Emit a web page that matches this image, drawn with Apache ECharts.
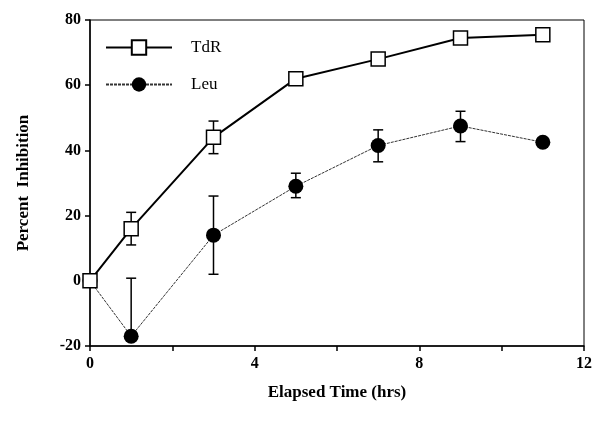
<!DOCTYPE html>
<html>
<head>
<meta charset="utf-8">
<script src="https://cdn.jsdelivr.net/npm/echarts@6/dist/echarts.min.js"></script>
<style>
  html, body { margin: 0; padding: 0; background: #fff; }
  #chart { width: 596px; height: 423px; }
</style>
</head>
<body>
<div id="chart"></div>
<script>
// elapsed time (hrs)
var hours = [0, 1, 3, 5, 7, 9, 11];
// percent inhibition
var tdr = [0, 16, 44, 62, 68, 74.5, 75.5];
var leu = [0, -17, 14, 29, 41.5, 47.5, 42.5];
// error bars [x, low, high]
var tdrErr = [[1, 11, 21], [3, 39, 49]];
var leuErr = [[1, -17, 0.8], [3, 2, 26], [5, 25.5, 33], [7, 36.5, 46.3], [9, 42.7, 52]];

var xTicks = [0, 4, 8, 12];

function pairs(xs, ys) {
    var out = [];
    for (var i = 0; i < xs.length; i++) out.push([xs[i], ys[i]]);
    return out;
}

// 误差线
function errRender(params, api) {
    var x = api.value(0);
    var lo = api.coord([x, api.value(1)]);
    var hi = api.coord([x, api.value(2)]);
    var w = 5;
    var st = {stroke: '#000', lineWidth: 1.5};
    return {
        type: 'group',
        children: [
            {type: 'line', shape: {x1: lo[0], y1: lo[1], x2: hi[0], y2: hi[1]}, style: st},
            {type: 'line', shape: {x1: hi[0] - w, y1: hi[1], x2: hi[0] + w, y2: hi[1]}, style: st},
            {type: 'line', shape: {x1: lo[0] - w, y1: lo[1], x2: lo[0] + w, y2: lo[1]}, style: st}
        ]
    };
}

var serif = '"Liberation Serif", "DejaVu Serif", serif';
var myChart = echarts.init(document.getElementById('chart'));
myChart.setOption({
    animation: false,
    backgroundColor: '#fff',
    grid: {
        left: 90, right: 12, top: 20, bottom: 77,
        show: true, borderColor: '#000', borderWidth: 1
    },
    legend: {
        left: 100, top: 34,
        orient: 'vertical',
        itemGap: 20,
        itemWidth: 66, itemHeight: 18,
        textStyle: {fontFamily: serif, fontSize: 17, color: '#000', padding: [0, 0, 0, 14]},
        data: ['TdR', 'Leu']
    },
    xAxis: {
        type: 'value', min: 0, max: 12, interval: 2,
        name: 'Elapsed Time (hrs)', nameLocation: 'middle', nameGap: 38,
        nameTextStyle: {fontFamily: serif, fontWeight: 'bold', fontSize: 17, color: '#000'},
        axisLine: {onZero: false, lineStyle: {color: '#000', width: 1.5}},
        axisTick: {length: 5, lineStyle: {color: '#000', width: 1.5}},
        splitLine: {show: false},
        axisLabel: {
            fontFamily: serif, fontWeight: 'bold', fontSize: 16, color: '#000', margin: 10,
            formatter: function (v) { return xTicks.indexOf(v) >= 0 ? String(v) : ''; }
        }
    },
    yAxis: {
        type: 'value', min: -20, max: 80, interval: 20,
        name: 'Percent  Inhibition', nameLocation: 'middle', nameGap: 58,
        nameTextStyle: {fontFamily: serif, fontWeight: 'bold', fontSize: 17, color: '#000'},
        axisLine: {onZero: false, lineStyle: {color: '#000', width: 1.5}},
        axisTick: {length: 5, lineStyle: {color: '#000', width: 1.5}},
        splitLine: {show: false},
        axisLabel: {fontFamily: serif, fontWeight: 'bold', fontSize: 16, color: '#000', margin: 9}
    },
    series: [
        {
            name: 'TdR', type: 'line', data: pairs(hours, tdr), z: 3,
            symbol: 'rect', symbolSize: 14,
            lineStyle: {color: '#000', width: 2},
            itemStyle: {color: '#fff', borderColor: '#000', borderWidth: 1.5}
        },
        {
            name: 'Leu', type: 'line', data: pairs(hours, leu), z: 2,
            symbol: 'circle', symbolSize: 15,
            lineStyle: {color: '#333', width: 1, type: [3, 1]},
            itemStyle: {color: '#000', borderColor: '#000', borderWidth: 0}
        },
        {type: 'custom', renderItem: errRender, data: tdrErr, z: 1, silent: true},
        {type: 'custom', renderItem: errRender, data: leuErr, z: 1, silent: true}
    ]
});
</script>
</body>
</html>
